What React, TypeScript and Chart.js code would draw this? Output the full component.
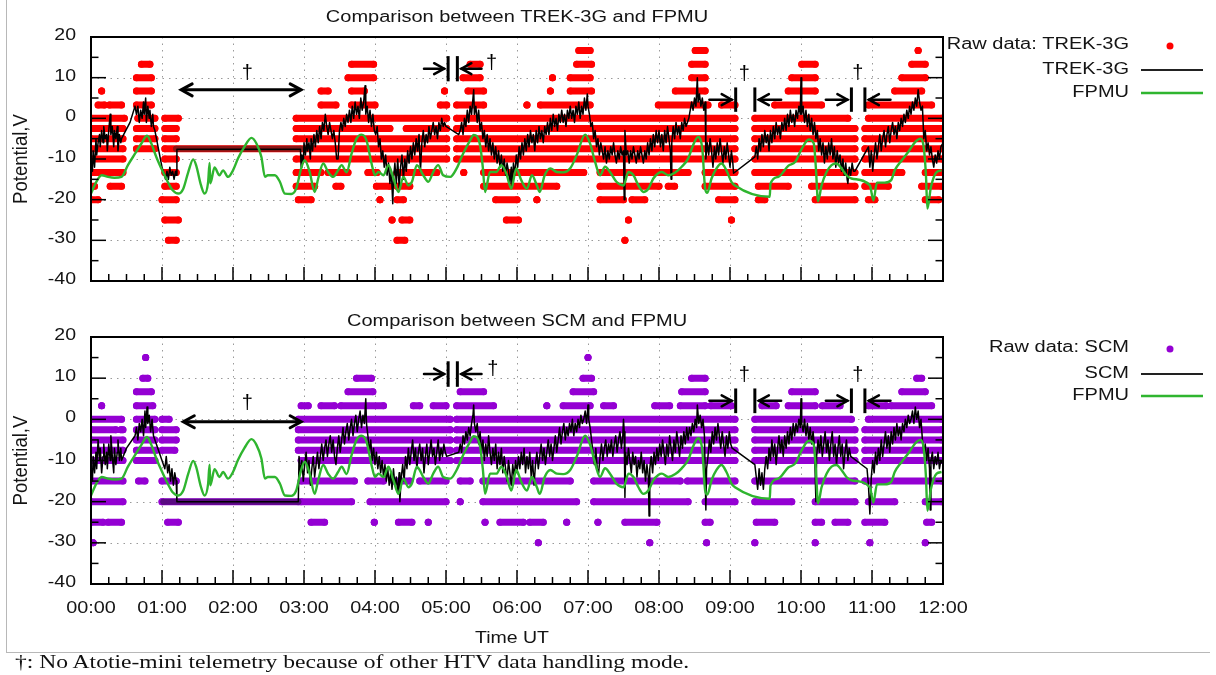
import React, { useEffect, useRef } from "react";
import { Chart, registerables } from "chart.js";

Chart.register(...registerables);

type Run = [number, number, number]; // [level V, start h, end h]
type Pt = [number, number]; // [time h, potential V]

// ---------------- axis / tick data ----------------
const X_TICK_LABELS = ["00:00", "01:00", "02:00", "03:00", "04:00", "05:00", "06:00", "07:00", "08:00", "09:00", "10:00", "11:00", "12:00"];
const Y_TICKS = [20, 10, 0, -10, -20, -30, -40];
const Y_MINOR_TICKS = [15, 5, -5, -15, -25, -35];
const GRID_Y = [10, 0, -10, -20, -30];

// ---------------- raw data (runs of samples at quantised levels) ----------------
const TREK_RAW: Run[] = [
  [16.7, 6.87, 7.03], [16.7, 8.51, 8.65], [16.7, 11.65, 11.65],
  [13.3, 0.71, 0.83], [13.3, 3.67, 3.98], [13.3, 5.34, 5.48], [13.3, 6.84, 7.05], [13.3, 8.46, 8.65], [13.3, 10.01, 10.2], [13.3, 11.56, 11.75],
  [10, 0.64, 0.85], [10, 3.62, 3.98], [10, 5.24, 5.48], [10, 6.5, 6.5], [10, 6.75, 7.03], [10, 8.46, 8.65], [10, 9.87, 10.2], [10, 11.42, 11.75],
  [6.7, 0.15, 0.15], [6.7, 0.64, 0.85], [6.7, 3.24, 3.34], [6.7, 3.67, 3.85], [6.7, 4.98, 4.98], [6.7, 5.31, 5.53], [6.7, 6.47, 6.47], [6.7, 6.75, 7.05], [6.7, 8.23, 8.65], [6.7, 9.82, 10.2], [6.7, 11.32, 11.7],
  [3.3, 0.1, 0.19], [3.3, 0.26, 0.43], [3.3, 0.64, 0.85], [3.3, 3.24, 3.45], [3.3, 3.67, 4.0], [3.3, 4.92, 5.01], [3.3, 5.15, 5.53], [3.3, 6.14, 6.14], [3.3, 6.33, 7.03], [3.3, 7.99, 8.69], [3.3, 8.88, 9.07], [3.3, 9.63, 10.29], [3.3, 10.95, 11.84],
  [0, 0, 0.47], [0, 0.66, 0.9], [0, 1.04, 1.23], [0, 2.89, 5.01], [0, 5.15, 9.07], [0, 9.35, 10.66], [0, 10.95, 11.98],
  [-2.5, 0, 0.45], [-2.5, 0.64, 0.9], [-2.5, 1.04, 1.2], [-2.5, 2.89, 4.21], [-2.5, 4.44, 5.01], [-2.5, 5.15, 9.07], [-2.5, 9.35, 10.76], [-2.5, 10.9, 11.98],
  [-5, 0, 0.45], [-5, 0.64, 0.9], [-5, 1.04, 1.2], [-5, 2.89, 5.01], [-5, 5.15, 9.07], [-5, 9.35, 10.76], [-5, 10.9, 11.98],
  [-7.5, 0, 0.45], [-7.5, 0.64, 0.9], [-7.5, 1.04, 5.01], [-7.5, 5.15, 9.07], [-7.5, 9.35, 10.76], [-7.5, 10.9, 11.98],
  [-10, 0, 0.45], [-10, 1.04, 1.2], [-10, 2.89, 5.01], [-10, 5.15, 9.07], [-10, 9.35, 10.76], [-10, 10.9, 11.98],
  [-13.3, 0, 0.45], [-13.3, 1.04, 1.2], [-13.3, 2.89, 3.24], [-13.3, 3.34, 3.62], [-13.3, 3.9, 4.03], [-13.3, 4.31, 4.87], [-13.3, 5.25, 5.25], [-13.3, 5.53, 6.94], [-13.3, 7.17, 8.41], [-13.3, 8.65, 9.07], [-13.3, 9.35, 10.76], [-13.3, 10.9, 11.42], [-13.3, 11.75, 11.98],
  [-16.7, 0, 0.05], [-16.7, 0.27, 0.43], [-16.7, 1.04, 1.2], [-16.7, 2.89, 3.15], [-16.7, 3.45, 3.52], [-16.7, 4.02, 4.21], [-16.7, 4.31, 4.49], [-16.7, 5.53, 6.56], [-16.7, 7.17, 8.0], [-16.7, 8.13, 8.22], [-16.7, 8.65, 9.07], [-16.7, 9.4, 9.82], [-16.7, 10.15, 10.76], [-16.7, 10.9, 11.23], [-16.7, 11.7, 11.98],
  [-20, 0, 0.1], [-20, 1.0, 1.2], [-20, 2.92, 3.1], [-20, 4.07, 4.07], [-20, 4.31, 4.4], [-20, 5.7, 6.0], [-20, 6.28, 6.28], [-20, 7.17, 7.5], [-20, 7.62, 7.8], [-20, 8.84, 9.07], [-20, 9.4, 9.49], [-20, 10.2, 10.76], [-20, 10.95, 11.04], [-20, 11.75, 11.94],
  [-25, 1.04, 1.23], [-25, 4.24, 4.24], [-25, 4.38, 4.49], [-25, 5.85, 6.02], [-25, 7.57, 7.57], [-25, 9.02, 9.02],
  [-30, 1.09, 1.2], [-30, 4.31, 4.42], [-30, 7.52, 7.52],
];

const SCM_RAW: Run[] = [
  [15, 0.77, 0.77], [15, 7.0, 7.0],
  [10, 0.73, 0.8], [10, 3.74, 3.95], [10, 6.93, 7.05], [10, 8.46, 8.65], [10, 11.63, 11.7],
  [6.7, 0.64, 0.85], [6.7, 3.62, 3.97], [6.7, 5.2, 5.53], [6.7, 6.79, 7.08], [6.7, 8.32, 8.65], [6.7, 9.87, 10.2], [6.7, 11.42, 11.75],
  [3.3, 0.15, 0.15], [3.3, 0.64, 0.87], [3.3, 2.96, 3.06], [3.3, 3.24, 3.43], [3.3, 3.52, 4.12], [3.3, 4.54, 4.63], [3.3, 4.82, 5.0], [3.3, 5.15, 5.67], [3.3, 6.42, 6.42], [3.3, 6.65, 7.03], [3.3, 7.22, 7.36], [3.3, 7.94, 8.15], [3.3, 8.3, 8.65], [3.3, 8.73, 9.02], [3.3, 9.45, 9.65], [3.3, 9.82, 10.2], [3.3, 10.3, 10.55], [3.3, 10.95, 11.2], [3.3, 11.27, 11.84],
  [0, 0, 0.43], [0, 0.64, 0.9], [0, 1.0, 1.1], [0, 2.92, 5.06], [0, 5.15, 9.07], [0, 9.35, 10.71], [0, 10.95, 11.98],
  [-2.5, 0, 0.35], [-2.5, 0.42, 0.45], [-2.5, 0.64, 0.9], [-2.5, 1.0, 1.2], [-2.5, 2.92, 5.06], [-2.5, 5.15, 9.07], [-2.5, 9.35, 10.76], [-2.5, 10.9, 11.98],
  [-5, 0, 0.45], [-5, 0.64, 0.9], [-5, 1.0, 1.2], [-5, 2.92, 5.06], [-5, 5.15, 9.07], [-5, 9.35, 10.76], [-5, 10.9, 11.98],
  [-7.5, 0, 0.45], [-7.5, 0.64, 0.92], [-7.5, 1.0, 1.18], [-7.5, 2.92, 5.06], [-7.5, 5.15, 9.07], [-7.5, 9.35, 10.76], [-7.5, 10.9, 11.98],
  [-10, 0, 0.45], [-10, 0.64, 0.9], [-10, 2.96, 5.06], [-10, 5.15, 9.07], [-10, 9.35, 10.76], [-10, 10.9, 11.98],
  [-15, 0, 0.45], [-15, 0.67, 0.76], [-15, 1.0, 1.2], [-15, 2.96, 3.71], [-15, 3.9, 4.12], [-15, 4.26, 4.49], [-15, 4.63, 5.0], [-15, 5.2, 5.34], [-15, 5.52, 6.75], [-15, 7.08, 8.3], [-15, 8.4, 9.07], [-15, 9.35, 10.76], [-15, 10.9, 11.98],
  [-20, 0, 0.45], [-20, 1.0, 2.92], [-20, 2.96, 3.67], [-20, 3.93, 5.0], [-20, 5.2, 5.2], [-20, 5.52, 6.84], [-20, 7.08, 8.41], [-20, 8.65, 9.07], [-20, 9.35, 9.87], [-20, 10.2, 10.76], [-20, 10.95, 11.32], [-20, 11.75, 11.98],
  [-25, 0, 0.17], [-25, 0.24, 0.43], [-25, 1.08, 1.23], [-25, 3.1, 3.29], [-25, 3.99, 3.99], [-25, 4.33, 4.52], [-25, 4.75, 4.75], [-25, 5.55, 5.55], [-25, 5.76, 6.09], [-25, 6.18, 6.37], [-25, 6.7, 6.7], [-25, 7.14, 7.14], [-25, 7.52, 7.97], [-25, 8.65, 8.72], [-25, 9.37, 9.63], [-25, 10.2, 10.29], [-25, 10.48, 10.66], [-25, 10.9, 11.18], [-25, 11.77, 11.84],
  [-30, 0.03, 0.03], [-30, 6.3, 6.3], [-30, 7.87, 7.87], [-30, 8.67, 8.67], [-30, 9.35, 9.35], [-30, 10.2, 10.2], [-30, 10.97, 10.97], [-30, 11.75, 11.75],
];

// raw samples held constant while telemetry was unavailable (dense overlap with the line)
const TREK_HOLD: Run[] = [[-7.5, 1.2, 2.95]];
const SCM_HOLD: Run[] = [[-20, 1.02, 2.92]];

// ---------------- processed lines ----------------
const TREK_LINE: Pt[] = [
  [0, -10], [0.02, -13], [0.03, -8], [0.05, -12], [0.07, -5], [0.08, -9], [0.1, -6], [0.12, -4], [0.13, -7], [0.15, -3], [0.17, -6], [0.18, -2], [0.2, -5], [0.22, -4], [0.23, -8], [0.25, -3], [0.27, 1], [0.28, -4], [0.3, -2], [0.32, -7], [0.33, -3], [0.35, -5], [0.37, -2], [0.38, -8], [0.4, -4], [0.42, -6], [0.43, -5],
  [0.55, -1], [0.62, 3], [0.64, 1], [0.66, 3], [0.68, -1], [0.7, 2], [0.72, 0], [0.74, 4], [0.75, 1], [0.77, 5], [0.78, -1], [0.8, 3], [0.82, 0], [0.83, 2], [0.85, -2], [0.87, 1], [0.88, -2],
  [0.9, -3], [1.0, -12], [1.05, -15], [1.07, -13], [1.09, -15], [1.11, -12], [1.13, -14], [1.15, -13], [1.17, -15], [1.19, -13], [1.2, -14], [1.21, -7.6], [2.95, -7.6],
  [2.96, -12], [2.97, -9], [2.99, -11], [3.0, -6], [3.02, -9], [3.04, -5], [3.05, -8], [3.07, -6], [3.09, -10], [3.1, -5], [3.12, -8], [3.14, -4], [3.16, -7], [3.18, -3], [3.2, -6], [3.22, -2], [3.24, -5], [3.26, -1], [3.28, -3], [3.3, 1], [3.32, -2], [3.34, -4], [3.36, -1], [3.38, -3], [3.4, -5], [3.42, -3], [3.44, -6], [3.46, -10], [3.48, -10], [3.5, -3], [3.52, -1], [3.54, -3], [3.56, 0], [3.58, -2], [3.6, 1], [3.62, -1], [3.64, 2], [3.66, -1], [3.68, 3], [3.7, 0], [3.72, 4], [3.74, 1], [3.76, 3], [3.78, 0], [3.8, 5], [3.82, 2], [3.84, 4], [3.86, 8], [3.87, 1], [3.89, 3], [3.91, -1], [3.93, 2], [3.95, -2], [3.97, 1], [3.99, -3],
  [4.01, -4], [4.03, -2], [4.05, -7], [4.07, -5], [4.09, -10], [4.11, -8], [4.13, -12], [4.15, -9], [4.17, -14], [4.19, -11], [4.21, -16], [4.23, -13], [4.25, -21], [4.26, -15], [4.28, -11], [4.3, -16], [4.32, -10], [4.34, -17], [4.36, -12], [4.38, -9], [4.4, -15], [4.42, -10], [4.44, -13], [4.46, -8], [4.48, -11], [4.5, -7], [4.52, -10], [4.54, -6], [4.56, -9], [4.58, -5], [4.6, -8], [4.62, -4], [4.64, -13], [4.66, -6], [4.68, -3], [4.7, -7], [4.72, -4], [4.74, -6], [4.76, -2], [4.78, -5], [4.8, -3], [4.82, -1], [4.84, -4], [4.86, -2], [4.88, -5], [4.9, -1], [4.92, -3], [4.94, 0], [4.96, -2], [4.98, -1], [5.0, -2],
  [5.18, -4], [5.2, -3], [5.22, -1], [5.24, -4], [5.26, 0], [5.28, -2], [5.3, 2], [5.32, -1], [5.34, 3], [5.36, 1], [5.38, 5], [5.39, 7], [5.4, 1], [5.42, 3], [5.44, -1], [5.46, 2], [5.48, -3],
  [5.5, -1], [5.52, -5], [5.54, -3], [5.56, -7], [5.58, -4], [5.6, -8], [5.62, -5], [5.64, -9], [5.66, -6], [5.68, -10], [5.7, -7], [5.72, -11], [5.74, -8], [5.76, -12], [5.78, -9], [5.8, -13], [5.82, -10], [5.84, -14], [5.86, -11], [5.88, -13], [5.9, -16], [5.92, -12], [5.93, -17], [5.95, -11],
  [5.97, -14], [5.99, -9], [6.01, -12], [6.03, -7], [6.05, -10], [6.07, -6], [6.09, -9], [6.11, -5], [6.13, -8], [6.15, -4], [6.17, -7], [6.19, -3], [6.21, -6], [6.23, -4], [6.25, -8], [6.27, -3], [6.29, -6], [6.31, -2], [6.33, -5], [6.35, -3], [6.37, -6], [6.39, -2], [6.41, -4],
  [6.43, -1], [6.45, -4], [6.47, 0], [6.49, -3], [6.51, 1], [6.53, -2], [6.55, 0], [6.57, -3], [6.59, 1], [6.61, -1], [6.63, 2], [6.65, -1], [6.67, 1], [6.69, -2], [6.71, 2], [6.73, 0], [6.75, 3], [6.77, 0], [6.79, 2], [6.81, -1], [6.83, 3], [6.85, 1], [6.87, 4], [6.89, 0], [6.91, 3], [6.93, 1], [6.95, 5], [6.97, 2], [6.99, 6], [7.0, 3], [7.02, 1],
  [7.04, -2], [7.06, -1], [7.08, -5], [7.1, -3], [7.12, -7], [7.14, -5], [7.16, -9], [7.18, -6], [7.2, -8], [7.22, -10], [7.24, -7], [7.26, -11], [7.28, -8], [7.3, -10], [7.32, -7], [7.34, -9], [7.36, -6], [7.38, -9], [7.4, -11], [7.42, -8], [7.44, -10], [7.46, -7], [7.48, -9], [7.5, -8], [7.51, -20], [7.52, -3], [7.54, -9],
  [7.56, -8], [7.58, -11], [7.6, -8], [7.62, -10], [7.64, -7], [7.66, -9], [7.68, -11], [7.7, -8], [7.72, -10], [7.74, -7], [7.76, -9], [7.78, -11], [7.8, -8], [7.82, -10], [7.84, -6], [7.86, -9], [7.88, -5], [7.9, -8], [7.92, -4], [7.94, -7], [7.96, -3], [7.98, -6],
  [8.0, -3], [8.02, -7], [8.04, -4], [8.06, -8], [8.08, -3], [8.1, -6], [8.12, -2], [8.14, -5], [8.16, -8], [8.17, -15], [8.18, -6], [8.2, -2], [8.22, -5], [8.24, -1], [8.26, -4], [8.28, -2], [8.3, -5], [8.32, -1], [8.34, -3], [8.36, 0], [8.38, -2], [8.4, -1],
  [8.42, 0], [8.44, 2], [8.46, 4], [8.48, 2], [8.5, 5], [8.52, 3], [8.54, 10], [8.55, 4], [8.57, 6], [8.59, 3], [8.61, 5], [8.63, 2], [8.65, 4], [8.66, -10],
  [8.68, -6], [8.7, -9], [8.72, -5], [8.74, -8], [8.76, -12], [8.78, -7], [8.8, -10], [8.82, -6], [8.84, -9], [8.86, -5], [8.88, -8], [8.9, -11], [8.92, -7], [8.94, -10], [8.96, -6], [8.98, -9], [9.0, -12], [9.02, -8], [9.04, -11], [9.05, -13.5],
  [9.35, -9.5], [9.37, -7], [9.39, -10], [9.41, -5], [9.43, -8], [9.45, -4], [9.47, -7], [9.49, -3], [9.51, -6], [9.53, -4], [9.55, -8], [9.57, -3], [9.59, -6], [9.61, -2], [9.63, -5], [9.65, -1], [9.67, -4], [9.69, -2], [9.71, -5], [9.73, -1], [9.75, -3], [9.77, 0], [9.79, -3], [9.81, 1], [9.83, -2], [9.85, 2], [9.87, -1], [9.89, 1], [9.91, -2], [9.93, 2], [9.95, 0], [9.97, 3], [9.99, 1], [10.0, 10], [10.01, 1],
  [10.03, 3], [10.05, -1], [10.07, 2], [10.09, -2], [10.11, 1], [10.13, -3], [10.15, 0], [10.17, -4], [10.19, -1],
  [10.21, -5], [10.23, -3], [10.25, -8], [10.27, -5], [10.29, -9], [10.31, -6], [10.33, -11], [10.35, -7], [10.37, -10], [10.39, -6], [10.41, -9], [10.43, -5], [10.45, -10], [10.47, -7], [10.49, -12], [10.51, -8], [10.53, -11], [10.55, -9], [10.57, -13], [10.59, -10], [10.61, -14], [10.63, -11], [10.65, -15], [10.66, -16], [10.68, -12], [10.7, -14], [10.72, -11], [10.74, -13], [10.76, -13],
  [10.95, -7], [10.97, -12], [10.99, -8], [11.01, -13], [11.03, -9], [11.05, -6], [11.07, -10], [11.09, -7], [11.11, -4], [11.13, -8], [11.15, -5], [11.17, -3], [11.19, -7], [11.21, -4], [11.23, -2], [11.25, -6], [11.27, -3], [11.29, -1], [11.31, -4], [11.33, -2], [11.35, -5], [11.37, -1], [11.39, -3], [11.41, 0], [11.43, -2], [11.45, 1], [11.47, -1], [11.49, 2], [11.51, 0], [11.53, 3], [11.55, 1], [11.57, 4], [11.59, 2],
  [11.61, 5], [11.63, 3], [11.65, 7], [11.67, 4], [11.69, 2], [11.71, 3], [11.73, -5], [11.75, -3], [11.77, -8], [11.79, -6], [11.81, -9], [11.83, -7], [11.85, -10], [11.87, -12], [11.89, -9], [11.91, -11], [11.93, -8], [11.95, -10], [11.97, -7], [12.0, -6],
];

const SCM_LINE: Pt[] = [
  [0, -12], [0.02, -15], [0.03, -9], [0.05, -13], [0.07, -8], [0.08, -12], [0.1, -5], [0.12, -10], [0.13, -7], [0.15, -13], [0.17, -9], [0.18, -6], [0.2, -11], [0.22, -8], [0.23, -12], [0.25, -6], [0.27, -10], [0.28, -4], [0.3, -9], [0.32, -13], [0.33, -7], [0.35, -11], [0.37, -8], [0.38, -5], [0.4, -10], [0.42, -7], [0.43, -10],
  [0.5, -7], [0.62, -4], [0.64, -2], [0.66, -5], [0.68, -1], [0.7, -3], [0.72, 0], [0.74, -4], [0.76, 2], [0.77, -2], [0.79, 3], [0.8, -1], [0.82, 1], [0.84, -3], [0.86, 0], [0.88, -4],
  [0.92, -6], [1.0, -10], [1.04, -12], [1.06, -9], [1.08, -13], [1.1, -11], [1.12, -15], [1.14, -12], [1.16, -16], [1.18, -13], [1.2, -15], [1.21, -20], [2.92, -20],
  [2.93, -9], [2.95, -13], [2.97, -10], [2.99, -15], [3.01, -11], [3.03, -8], [3.05, -13], [3.07, -10], [3.09, -16], [3.11, -12], [3.13, -9], [3.15, -14], [3.17, -11], [3.19, -8], [3.21, -12], [3.23, -9], [3.25, -6], [3.27, -10], [3.29, -7], [3.31, -5], [3.33, -9], [3.35, -6], [3.37, -4], [3.39, -8], [3.41, -5], [3.43, -9], [3.45, -11], [3.47, -7], [3.49, -4], [3.51, -8], [3.53, -5], [3.55, -2], [3.57, -6], [3.59, -3], [3.61, -1], [3.63, -5], [3.65, -2], [3.67, 0], [3.69, -4], [3.71, -1], [3.73, 1], [3.75, -3], [3.77, 0], [3.79, 2], [3.81, -2], [3.83, 1], [3.85, -1], [3.87, 5], [3.88, -1], [3.9, -4], [3.92, -8], [3.94, -5], [3.96, -10], [3.98, -7], [4.0, -11],
  [4.02, -8], [4.04, -12], [4.06, -9], [4.08, -13], [4.1, -10], [4.12, -14], [4.14, -11], [4.16, -15], [4.18, -12], [4.2, -16], [4.22, -13], [4.24, -17], [4.26, -12], [4.28, -16], [4.3, -14], [4.32, -18], [4.34, -13], [4.35, -20], [4.37, -14], [4.39, -11], [4.41, -15],
  [4.43, -9], [4.45, -12], [4.47, -7], [4.49, -11], [4.51, -8], [4.53, -5], [4.55, -10], [4.57, -7], [4.59, -12], [4.61, -8], [4.63, -6], [4.65, -10], [4.67, -7], [4.69, -13], [4.71, -9], [4.73, -6], [4.75, -11], [4.77, -8], [4.79, -5], [4.81, -9], [4.83, -7], [4.85, -11], [4.87, -8], [4.89, -5], [4.91, -10], [4.93, -7], [4.95, -9], [4.97, -6], [4.99, -8], [5.01, -9],
  [5.18, -8], [5.2, -6], [5.22, -8], [5.24, -4], [5.26, -6], [5.28, -3], [5.3, -5], [5.32, -2], [5.34, -4], [5.36, -1], [5.38, 1], [5.39, 3.5], [5.4, -1], [5.42, -3], [5.44, -1],
  [5.46, -6], [5.48, -3], [5.5, -8], [5.52, -5], [5.54, -10], [5.56, -6], [5.58, -9], [5.6, -4], [5.62, -8], [5.64, -11], [5.66, -7], [5.68, -10], [5.7, -6], [5.72, -12], [5.74, -8], [5.76, -11], [5.78, -7], [5.8, -13], [5.82, -9], [5.84, -12], [5.86, -15], [5.88, -10], [5.9, -13], [5.92, -16], [5.94, -11], [5.96, -14],
  [5.98, -10], [6.0, -13], [6.02, -9], [6.04, -12], [6.06, -8], [6.08, -11], [6.1, -7], [6.12, -13], [6.14, -9], [6.16, -12], [6.18, -8], [6.2, -14], [6.22, -10], [6.24, -16], [6.26, -11], [6.28, -8], [6.3, -12], [6.32, -9], [6.34, -6], [6.36, -10], [6.38, -7], [6.4, -11], [6.42, -8], [6.44, -5], [6.46, -9], [6.48, -6], [6.5, -10], [6.52, -7], [6.54, -4], [6.56, -8],
  [6.58, -5], [6.6, -2], [6.62, -6], [6.64, -3], [6.66, -1], [6.68, -5], [6.7, -2], [6.72, -4], [6.74, -1], [6.76, -3], [6.78, 0], [6.8, -4], [6.82, -1], [6.84, -3], [6.86, 0], [6.88, -2], [6.9, 1], [6.92, -1], [6.94, 0], [6.96, 2], [6.98, -1], [7.0, 3.5], [7.01, 0], [7.03, -2],
  [7.05, -5], [7.07, -8], [7.09, -11], [7.11, -7], [7.13, -12], [7.15, -13], [7.17, -9], [7.19, -6], [7.21, -10], [7.23, -7], [7.25, -5], [7.27, -9], [7.29, -6], [7.31, -8], [7.33, -5], [7.35, -9], [7.37, -6], [7.39, -4], [7.41, -8], [7.43, -5], [7.45, -3], [7.47, -7], [7.49, -4], [7.5, 0], [7.51, -3], [7.52, -19], [7.53, -8],
  [7.55, -11], [7.57, -7], [7.59, -10], [7.61, -13], [7.63, -8], [7.65, -11], [7.67, -9], [7.69, -14], [7.71, -10], [7.73, -12], [7.75, -8], [7.77, -13], [7.79, -10], [7.81, -15], [7.83, -11], [7.85, -14], [7.86, -23.5], [7.87, -12], [7.89, -9], [7.91, -13], [7.93, -8], [7.95, -11], [7.97, -7], [7.99, -10],
  [8.01, -6], [8.03, -9], [8.05, -5], [8.07, -8], [8.09, -11], [8.11, -6], [8.13, -9], [8.15, -4], [8.17, -7], [8.19, -10], [8.21, -5], [8.23, -8], [8.25, -3], [8.27, -6], [8.29, -9], [8.31, -4], [8.33, -7], [8.35, -3], [8.37, -6], [8.39, -2], [8.41, -5], [8.43, -2], [8.45, -4],
  [8.47, -1], [8.49, -3], [8.51, 0], [8.53, -2], [8.54, 3.5], [8.56, -1], [8.58, 1], [8.6, -2], [8.62, 0], [8.64, -4], [8.66, -22], [8.67, -12],
  [8.69, -9], [8.71, -5], [8.73, -8], [8.75, -3], [8.77, -6], [8.79, -2], [8.81, -5], [8.83, -1], [8.85, -4], [8.87, -7], [8.89, -3], [8.91, -6], [8.93, -9], [8.95, -4], [8.97, -7], [8.99, -3], [9.01, -6], [9.03, -7],
  [9.35, -11], [9.37, -14], [9.39, -17], [9.41, -12], [9.43, -16], [9.45, -13], [9.47, -17], [9.49, -12],
  [9.51, -9], [9.53, -12], [9.55, -7], [9.57, -10], [9.59, -5], [9.61, -9], [9.63, -6], [9.65, -11], [9.67, -7], [9.69, -4], [9.71, -8], [9.73, -5], [9.75, -9], [9.77, -4], [9.79, -7], [9.81, -3], [9.83, -6], [9.85, -2], [9.87, -5], [9.89, -1], [9.91, -4], [9.93, -1], [9.95, -3], [9.97, 0], [9.99, -2], [10.0, 5], [10.01, -1],
  [10.03, -3], [10.05, 0], [10.07, -4], [10.09, -1], [10.11, -5], [10.13, -2], [10.15, -6], [10.17, -3], [10.19, -7], [10.21, -20], [10.22, -9],
  [10.24, -5], [10.26, -8], [10.28, -4], [10.3, -9], [10.32, -6], [10.34, -3], [10.36, -8], [10.38, -5], [10.4, -10], [10.42, -6], [10.44, -3], [10.46, -9], [10.48, -6], [10.5, -11], [10.52, -7], [10.54, -4], [10.56, -9], [10.58, -6], [10.6, -12], [10.62, -8], [10.64, -5], [10.66, -10], [10.68, -7], [10.7, -9],
  [10.93, -12], [10.95, -16], [10.97, -23], [10.99, -14], [11.01, -10], [11.03, -13], [11.05, -8], [11.07, -11], [11.09, -7], [11.11, -10], [11.13, -5], [11.15, -9], [11.17, -6], [11.19, -3], [11.21, -7], [11.23, -4], [11.25, -8], [11.27, -3], [11.29, -6], [11.31, -2], [11.33, -5], [11.35, -1], [11.37, -4], [11.39, -2], [11.41, -5], [11.43, -1], [11.45, -3], [11.47, 0], [11.49, -2], [11.51, 1], [11.53, -1], [11.55, 0], [11.57, 2], [11.59, -1], [11.61, 3], [11.63, 0], [11.65, 2], [11.67, -2], [11.69, 0],
  [11.71, -5], [11.73, -8], [11.75, -6], [11.77, -10], [11.79, -7], [11.81, -12], [11.82, -22], [11.83, -10], [11.85, -8], [11.87, -12], [11.89, -9], [11.91, -11], [11.93, -8], [11.95, -12], [11.97, -10], [12.0, -11],
];

const FPMU_LINE: Pt[] = [
  [0, -18.5], [0.075, -15.6], [0.15, -14], [0.24, -14.4], [0.33, -14.6], [0.43, -14.4], [0.52, -11.5], [0.62, -8.7], [0.71, -6.2], [0.79, -4.3], [0.85, -6.2], [0.92, -9.5], [0.99, -12.3], [1.08, -15.6], [1.15, -17.7], [1.23, -18.5], [1.3, -17.3], [1.37, -13.2], [1.44, -10.1], [1.48, -11.5], [1.55, -16.5], [1.6, -18.5], [1.65, -15.6], [1.67, -11], [1.68, -16], [1.74, -12.1], [1.81, -14], [1.86, -12.8], [1.93, -14.4], [2.0, -12.8], [2.07, -9.9], [2.16, -7], [2.26, -4.8], [2.33, -6.2], [2.4, -9.5], [2.45, -14.4], [2.49, -14], [2.59, -14], [2.66, -15.6], [2.73, -18.5], [2.82, -18.6], [2.89, -17.3], [2.96, -12.3], [3.01, -10.3], [3.08, -13.2], [3.15, -18.1], [3.2, -14.8], [3.27, -11.1], [3.34, -13.2], [3.41, -14.4], [3.48, -12.8], [3.53, -11.5], [3.6, -13.3], [3.67, -8.7], [3.74, -5], [3.81, -4], [3.88, -5.4], [3.95, -11], [4.0, -14],
  [4.05, -13.2], [4.12, -14], [4.19, -11.5], [4.26, -14.8], [4.33, -18.1], [4.4, -14.4], [4.47, -16.5], [4.52, -15.6], [4.59, -11.5], [4.68, -14], [4.75, -15.6], [4.82, -13.2], [4.89, -11.5], [4.96, -14], [5.06, -14.4], [5.15, -12.3], [5.24, -8.7], [5.34, -5.4], [5.39, -4.1], [5.48, -6.6], [5.52, -12.3], [5.55, -18.1], [5.62, -13.2], [5.71, -13.2], [5.78, -11.5], [5.85, -13.6], [5.92, -17.3], [5.99, -12.3], [6.06, -15.2], [6.14, -17.3], [6.21, -14], [6.28, -16.5], [6.32, -18.1], [6.39, -14], [6.47, -12.3], [6.56, -13.2], [6.65, -13.3], [6.75, -12.3], [6.84, -9.1], [6.96, -4], [7.03, -6.2], [7.1, -10.7], [7.17, -14], [7.24, -11.9], [7.31, -13.2], [7.4, -15.6], [7.5, -16.5], [7.57, -13.2], [7.64, -14], [7.71, -16.5], [7.78, -18.1], [7.85, -17.3], [7.92, -14.8], [7.99, -13.5],
  [8.04, -13.2], [8.13, -14], [8.23, -13.3], [8.32, -11.9], [8.41, -9.9], [8.48, -6.6], [8.55, -4.6], [8.61, -7.5], [8.65, -17.3], [8.68, -18.3], [8.74, -14.8], [8.81, -12.3], [8.88, -11.1], [8.95, -12.8], [9.02, -15.6], [9.07, -16.5], [9.56, -19.3], [9.57, -16.1], [9.68, -14.4], [9.82, -11.7], [9.92, -10.7], [10.01, -7.5], [10.11, -5.2], [10.18, -6.2], [10.21, -12.3], [10.24, -20.4], [10.29, -16.5], [10.36, -13.2], [10.43, -11.5], [10.5, -11.1], [10.57, -12.3], [10.64, -14], [10.71, -14.8], [10.97, -16.5], [11.02, -20.2], [11.07, -15.8], [11.18, -15.8], [11.27, -15.2], [11.32, -12.8], [11.42, -10.3], [11.51, -8.3], [11.61, -5.8], [11.68, -5], [11.72, -6.2], [11.76, -14], [11.78, -22.2], [11.83, -16.9], [11.91, -13.2], [11.98, -12.8],
];

// ---------------- annotation data (in data coordinates: hours / volts) ----------------
type Span = { t0: number; t1: number; v: number; dagT: number; dagV: number };
type Gap = { a: number; b: number; v: number; h: number; tail: number; dagT: number; dagV: number };
const TOP_SPAN: Span = { t0: 1.27, t1: 2.96, v: 7.0, dagT: 2.2, dagV: 11 };
const BOT_SPAN: Span = { t0: 1.3, t1: 2.96, v: -0.6, dagT: 2.2, dagV: 3.8 };
const TOP_GAPS: Gap[] = [
  { a: 5.03, b: 5.16, v: 12.2, h: 3.1, tail: 0.34, dagT: 5.64, dagV: 13.5 },
  { a: 9.08, b: 9.35, v: 4.6, h: 3.0, tail: 0.37, dagT: 9.2, dagV: 10.7 },
  { a: 10.71, b: 10.9, v: 4.6, h: 3.0, tail: 0.36, dagT: 10.8, dagV: 11.1 },
];
const BOT_GAPS: Gap[] = [
  { a: 5.03, b: 5.16, v: 11, h: 3.1, tail: 0.34, dagT: 5.66, dagV: 12.2 },
  { a: 9.08, b: 9.35, v: 4.5, h: 3.0, tail: 0.37, dagT: 9.2, dagV: 10.6 },
  { a: 10.71, b: 10.9, v: 4.5, h: 3.0, tail: 0.36, dagT: 10.8, dagV: 10.6 },
];

const SANS = '"Liberation Sans", Arial, sans-serif';
const TXT = "#141414";
const RED = "#ff0000";
const PURPLE = "#9400d3";
const GREEN = "#2fb52f";

type PanelCfg = {
  title: string;
  titleY: number;
  legend: [string, string, string];
  legendY: [number, number, number];
  rawColor: string;
  holdColor: string;
  showXLabels: boolean;
  span: Span;
  gaps: Gap[];
};

function txt(ctx: CanvasRenderingContext2D, s: string, x: number, y: number, size: number, align: CanvasTextAlign, sx = 1.24) {
  ctx.save();
  ctx.translate(x, y);
  ctx.scale(sx, 1);
  ctx.font = `${size}px ${SANS}`;
  ctx.fillStyle = TXT;
  ctx.textAlign = align;
  ctx.textBaseline = "alphabetic";
  ctx.fillText(s, 0, 0);
  ctx.restore();
}

function seg(ctx: CanvasRenderingContext2D, x0: number, y0: number, x1: number, y1: number) {
  ctx.beginPath();
  ctx.moveTo(x0, y0);
  ctx.lineTo(x1, y1);
  ctx.stroke();
}

function head(ctx: CanvasRenderingContext2D, x: number, y: number, dir: number, len = 10, half = 5.5) {
  ctx.beginPath();
  ctx.moveTo(x - dir * len, y - half);
  ctx.lineTo(x, y);
  ctx.lineTo(x - dir * len, y + half);
  ctx.stroke();
}

function makeDecor(cfg: PanelCfg) {
  return {
    id: "decor",
    beforeDatasetsDraw(chart: any) {
      const { ctx, chartArea: a, scales } = chart;
      const xs = scales.x, ys = scales.y;
      ctx.save();
      ctx.strokeStyle = "#9a9a9a";
      ctx.lineWidth = 1;
      ctx.setLineDash([1.5, 5]);
      X_TICK_LABELS.forEach((_, i) => {
        if (i === 0 || i === X_TICK_LABELS.length - 1) return;
        const px = Math.round(xs.getPixelForValue(i)) + 0.5;
        seg(ctx, px, a.top, px, a.bottom);
      });
      GRID_Y.forEach((v) => {
        const py = Math.round(ys.getPixelForValue(v)) + 0.5;
        seg(ctx, a.left, py, a.right, py);
      });
      ctx.restore();
    },
    afterDraw(chart: any) {
      const { ctx, chartArea: a, scales } = chart;
      const xs = scales.x, ys = scales.y;
      ctx.save();
      ctx.strokeStyle = "#000";
      ctx.lineWidth = 2;
      ctx.strokeRect(a.left, a.top, a.right - a.left, a.bottom - a.top);
      ctx.lineWidth = 1.5;
      Y_TICKS.forEach((v) => {
        const py = ys.getPixelForValue(v);
        seg(ctx, a.left, py, a.left + 15, py);
        seg(ctx, a.right, py, a.right - 15, py);
        txt(ctx, String(v), 76, py + 3, 16, "right", 1.22);
      });
      Y_MINOR_TICKS.forEach((v) => {
        const py = ys.getPixelForValue(v);
        seg(ctx, a.left, py, a.left + 7.5, py);
        seg(ctx, a.right, py, a.right - 7.5, py);
      });
      X_TICK_LABELS.forEach((lab, i) => {
        const px = xs.getPixelForValue(i);
        seg(ctx, px, a.bottom, px, a.bottom - 14);
        if (i < X_TICK_LABELS.length - 1) {
          for (let q = 1; q < 4; q++) {
            const pm = xs.getPixelForValue(i + q / 4);
            seg(ctx, pm, a.bottom, pm, a.bottom - 7);
          }
        }
        if (cfg.showXLabels) txt(ctx, lab, px, a.bottom + 29, 16, "center", 1.24);
      });
      if (cfg.showXLabels) txt(ctx, "Time UT", 512, a.bottom + 59, 16, "center", 1.22);
      ctx.save();
      ctx.translate(21, (a.top + a.bottom) / 2);
      ctx.rotate(-Math.PI / 2);
      ctx.scale(1.16, 1.25);
      ctx.font = `16px ${SANS}`;
      ctx.fillStyle = TXT;
      ctx.textAlign = "center";
      ctx.textBaseline = "middle";
      ctx.fillText("Potential,V", 0, 0);
      ctx.restore();
      txt(ctx, cfg.title, (a.left + a.right) / 2, cfg.titleY, 16, "center", 1.25);
      const lx = 1129;
      txt(ctx, cfg.legend[0], lx, cfg.legendY[0], 16, "right", 1.25);
      txt(ctx, cfg.legend[1], lx, cfg.legendY[1], 16, "right", 1.25);
      txt(ctx, cfg.legend[2], lx, cfg.legendY[2], 16, "right", 1.25);
      ctx.fillStyle = cfg.rawColor;
      ctx.beginPath();
      ctx.arc(1170, cfg.legendY[0] - 3, 3.5, 0, Math.PI * 2);
      ctx.fill();
      ctx.lineWidth = 2;
      ctx.strokeStyle = "#222";
      seg(ctx, 1141, cfg.legendY[1] - 4, 1203, cfg.legendY[1] - 4);
      ctx.strokeStyle = GREEN;
      ctx.lineWidth = 2.4;
      seg(ctx, 1141, cfg.legendY[2] - 4, 1203, cfg.legendY[2] - 4);
      ctx.strokeStyle = "#000";
      ctx.fillStyle = "#000";
      ctx.lineCap = "round";
      ctx.lineJoin = "miter";
      const sp = cfg.span;
      const sx0 = xs.getPixelForValue(sp.t0), sx1 = xs.getPixelForValue(sp.t1), sy = ys.getPixelForValue(sp.v);
      ctx.lineWidth = 3;
      seg(ctx, sx0 + 2, sy, sx1 - 2, sy);
      head(ctx, sx0, sy, -1, 11, 6);
      head(ctx, sx1, sy, 1, 11, 6);
      const dag = (t: number, v: number) => {
        ctx.save();
        ctx.translate(xs.getPixelForValue(t), ys.getPixelForValue(v));
        ctx.font = `20px ${SANS}`;
        ctx.fillStyle = "#000";
        ctx.textAlign = "center";
        ctx.textBaseline = "middle";
        ctx.fillText("\u2020", 0, 0);
        ctx.restore();
      };
      dag(sp.dagT, sp.dagV);
      cfg.gaps.forEach((g) => {
        const pa = xs.getPixelForValue(g.a), pb = xs.getPixelForValue(g.b);
        const py = ys.getPixelForValue(g.v);
        const ptop = ys.getPixelForValue(g.v + g.h), pbot = ys.getPixelForValue(g.v - g.h);
        ctx.lineWidth = 3;
        ctx.lineCap = "butt";
        seg(ctx, pa, ptop, pa, pbot);
        seg(ctx, pb, ptop, pb, pbot);
        ctx.lineCap = "round";
        ctx.lineWidth = 2.5;
        const ta = xs.getPixelForValue(g.a - g.tail), tb = xs.getPixelForValue(g.b + g.tail);
        seg(ctx, ta, py, pa - 4, py);
        head(ctx, pa - 4, py, 1);
        seg(ctx, tb, py, pb + 4, py);
        head(ctx, pb + 4, py, -1);
        dag(g.dagT, g.dagV);
      });
      ctx.restore();
    },
  };
}

// one dataset per quantised level, samples sorted by time, runs separated by gaps
function rawDatasets(runs: Run[], color: string, width: number, order: number) {
  const levels = Array.from(new Set(runs.map((r) => r[0])));
  return levels.map((lv) => {
    const pts: { x: number; y: number | null }[] = [];
    runs
      .filter((r) => r[0] === lv)
      .sort((p, q) => p[1] - q[1])
      .forEach(([, s, e]) => {
        pts.push({ x: s, y: lv });
        pts.push({ x: e, y: lv });
        pts.push({ x: e, y: null });
      });
    return {
      label: "raw " + lv,
      data: pts,
      borderColor: color,
      backgroundColor: color,
      borderWidth: width,
      borderCapStyle: "round",
      pointRadius: width / 2,
      pointBorderWidth: 0,
      pointBackgroundColor: color,
      spanGaps: false,
      tension: 0,
      order,
    };
  });
}

function buildConfig(cfg: PanelCfg, raw: Run[], hold: Run[], line: Pt[], padBottom: number): any {
  return {
    type: "line",
    data: {
      datasets: [
        {
          label: cfg.legend[2],
          data: FPMU_LINE.map(([x, y]) => ({ x, y })),
          borderColor: GREEN,
          borderWidth: 2.4,
          pointRadius: 0,
          cubicInterpolationMode: "monotone",
          borderJoinStyle: "round",
          order: 1,
        },
        {
          label: cfg.legend[1],
          data: line.map(([x, y]) => ({ x, y })),
          borderColor: "#000",
          borderWidth: 1.5,
          pointRadius: 0,
          tension: 0,
          borderJoinStyle: "round",
          order: 2,
        },
        ...rawDatasets(hold, cfg.holdColor, 6, 3),
        ...rawDatasets(raw, cfg.rawColor, 7, 4),
      ],
    },
    options: {
      responsive: false,
      animation: false,
      devicePixelRatio: 1,
      events: [],
      layout: { padding: { left: 91, right: 273, top: 37, bottom: padBottom } },
      plugins: { legend: { display: false }, tooltip: { enabled: false }, title: { display: false } },
      scales: {
        x: { type: "linear", min: 0, max: 12, display: false },
        y: { type: "linear", min: -40, max: 20, display: false },
      },
    },
    plugins: [makeDecor(cfg)],
  };
}

const TOP_CFG: PanelCfg = {
  title: "Comparison between TREK-3G and FPMU",
  titleY: 22,
  legend: ["Raw data: TREK-3G", "TREK-3G", "FPMU"],
  legendY: [49, 74, 97],
  rawColor: RED,
  holdColor: "#8a1616",
  showXLabels: false,
  span: TOP_SPAN,
  gaps: TOP_GAPS,
};

const BOT_CFG: PanelCfg = {
  title: "Comparison between SCM and FPMU",
  titleY: 26,
  legend: ["Raw data: SCM", "SCM", "FPMU"],
  legendY: [52, 78, 100],
  rawColor: PURPLE,
  holdColor: "#5a0a82",
  showXLabels: true,
  span: BOT_SPAN,
  gaps: BOT_GAPS,
};

export default function App() {
  const topRef = useRef<HTMLCanvasElement>(null);
  const botRef = useRef<HTMLCanvasElement>(null);
  useEffect(() => {
    const c1 = new Chart(topRef.current as HTMLCanvasElement, buildConfig(TOP_CFG, TREK_RAW, TREK_HOLD, TREK_LINE, 19));
    const c2 = new Chart(botRef.current as HTMLCanvasElement, buildConfig(BOT_CFG, SCM_RAW, SCM_HOLD, SCM_LINE, 66));
    return () => {
      c1.destroy();
      c2.destroy();
    };
  }, []);
  return (
    <div style={{ position: "fixed", left: 0, top: 0, width: 1216, height: 675, background: "#fff", overflow: "hidden" }}>
      <canvas ref={topRef} width={1216} height={300} style={{ position: "absolute", left: 0, top: 0, width: 1216, height: 300 }} />
      <canvas ref={botRef} width={1216} height={350} style={{ position: "absolute", left: 0, top: 300, width: 1216, height: 350 }} />
      <div style={{ position: "absolute", left: 6, top: 0, width: 1, height: 653, background: "#b8b8b8" }} />
      <div style={{ position: "absolute", left: 6, top: 652, width: 1204, height: 1, background: "#b8b8b8" }} />
      <div
        style={{
          position: "absolute",
          left: 15,
          top: 652,
          fontFamily: '"Liberation Serif", "Times New Roman", serif',
          fontSize: 19,
          lineHeight: "19px",
          whiteSpace: "nowrap",
          color: "#111",
          transform: "scaleX(1.24)",
          transformOrigin: "left top",
        }}
      >
        †: No Atotie-mini telemetry because of other HTV data handling mode.
      </div>
    </div>
  );
}
